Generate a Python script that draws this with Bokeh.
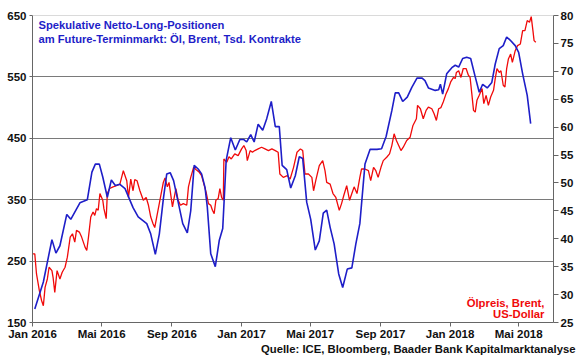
import pandas as pd
from bokeh.plotting import figure
from bokeh.models import Range1d, LinearAxis, FixedTicker, CustomJSTickFormatter, Label, Span, Title
from bokeh.embed import file_html
from bokeh.resources import INLINE

# ---- data ----
blue_dates = ["2016-01-05","2016-01-20","2016-02-04","2016-02-11","2016-02-18","2016-03-01","2016-03-08",
    "2016-03-24","2016-04-06","2016-04-14","2016-04-20","2016-04-27","2016-05-03","2016-05-11","2016-05-18",
    "2016-05-25","2016-06-02","2016-06-11","2016-06-25","2016-07-04","2016-07-19","2016-07-26","2016-08-03",
    "2016-08-10","2016-08-17","2016-08-23","2016-08-29","2016-09-04","2016-09-20","2016-09-28","2016-10-04",
    "2016-10-10","2016-10-17","2016-10-23","2016-10-29","2016-11-02","2016-11-08","2016-11-16","2016-11-23",
    "2016-11-29","2016-12-05","2016-12-13","2016-12-21","2016-12-29","2017-01-05","2017-01-10","2017-01-17",
    "2017-01-23","2017-01-30","2017-02-07","2017-02-14","2017-02-22","2017-03-01","2017-03-08","2017-03-13",
    "2017-03-21","2017-03-28","2017-04-05","2017-04-12","2017-04-18","2017-04-25","2017-05-02","2017-05-10",
    "2017-05-17","2017-05-24","2017-05-30","2017-06-05","2017-06-12","2017-06-20","2017-06-27","2017-07-05",
    "2017-07-13","2017-07-20","2017-07-27","2017-08-05","2017-08-14","2017-08-26","2017-09-03","2017-09-11",
    "2017-09-21","2017-09-27","2017-10-03","2017-10-10","2017-10-18","2017-10-26","2017-11-04","2017-11-13",
    "2017-11-18","2017-11-24","2017-12-06","2017-12-12","2017-12-15","2017-12-19","2017-12-26","2018-01-04",
    "2018-01-10","2018-01-16","2018-01-23","2018-01-30","2018-02-06","2018-02-14","2018-02-21","2018-02-27",
    "2018-03-07","2018-03-15","2018-03-21","2018-03-28","2018-04-04","2018-04-10","2018-04-16","2018-04-25",
    "2018-05-01","2018-05-08","2018-05-16","2018-05-22"]
blue_values = [172,216,285,263,275,326,318,345,350,395,408,408,387,354,382,373,375,368,337,322,311,294,261,
    294,351,392,394,381,311,296,332,406,400,392,370,338,262,241,284,303,414,451,431,448,448,444,456,444,473,
    463,482,510,469,469,406,399,369,389,420,417,346,318,268,283,328,333,305,278,229,207,237,239,278,311,408,
    432,432,433,453,495,524,524,510,517,533,548,548,544,532,528,529,538,522,555,565,569,566,580,582,580,550,
    525,538,532,541,571,596,601,615,610,601,590,555,520,474]

red_dates = ["2016-01-01","2016-01-05","2016-01-08","2016-01-13","2016-01-17","2016-01-20","2016-01-23",
    "2016-01-27","2016-01-30","2016-02-04","2016-02-06","2016-02-09","2016-02-13","2016-02-18","2016-02-22",
    "2016-02-27","2016-03-02","2016-03-07","2016-03-11","2016-03-15","2016-03-18","2016-03-23","2016-03-27",
    "2016-04-02","2016-04-05","2016-04-08","2016-04-12","2016-04-16","2016-04-19","2016-04-22","2016-04-25",
    "2016-04-28","2016-05-03","2016-05-05","2016-05-09","2016-05-11","2016-05-15","2016-05-21","2016-05-27",
    "2016-06-02","2016-06-08","2016-06-14","2016-06-17","2016-06-21","2016-06-25","2016-06-28","2016-07-02",
    "2016-07-07","2016-07-13","2016-07-18","2016-07-22","2016-07-26","2016-07-30","2016-08-02","2016-08-06",
    "2016-08-11","2016-08-17","2016-08-20","2016-08-24","2016-08-27","2016-09-02","2016-09-08","2016-09-12",
    "2016-09-16","2016-09-21","2016-09-27","2016-09-30","2016-10-04","2016-10-09","2016-10-13","2016-10-19",
    "2016-10-23","2016-10-27","2016-10-31","2016-11-04","2016-11-08","2016-11-11","2016-11-14","2016-11-17",
    "2016-11-21","2016-11-24","2016-11-27","2016-11-30","2016-12-01","2016-12-06","2016-12-10","2016-12-14",
    "2016-12-20","2016-12-26","2017-01-01","2017-01-05","2017-01-09","2017-01-11","2017-01-16","2017-01-20",
    "2017-01-24","2017-01-30","2017-02-05","2017-02-11","2017-02-17","2017-02-23","2017-03-01","2017-03-06",
    "2017-03-09","2017-03-15","2017-03-22","2017-03-27","2017-04-02","2017-04-08","2017-04-14","2017-04-18",
    "2017-04-22","2017-04-28","2017-05-04","2017-05-07","2017-05-11","2017-05-17","2017-05-23","2017-05-27",
    "2017-05-30","2017-06-05","2017-06-10","2017-06-15","2017-06-21","2017-06-25","2017-06-29","2017-07-04",
    "2017-07-09","2017-07-13","2017-07-17","2017-07-22","2017-07-27","2017-07-30","2017-08-05","2017-08-11",
    "2017-08-15","2017-08-20","2017-08-24","2017-08-28","2017-09-02","2017-09-06","2017-09-12","2017-09-17",
    "2017-09-21","2017-09-25","2017-09-29","2017-10-03","2017-10-07","2017-10-11","2017-10-17","2017-10-23",
    "2017-10-28","2017-11-03","2017-11-05","2017-11-10","2017-11-15","2017-11-20","2017-11-24","2017-11-30",
    "2017-12-04","2017-12-08","2017-12-12","2017-12-16","2017-12-20","2017-12-25","2017-12-29","2018-01-02",
    "2018-01-07","2018-01-10","2018-01-12","2018-01-16","2018-01-20","2018-01-24","2018-01-29","2018-02-02",
    "2018-02-05","2018-02-08","2018-02-11","2018-02-14","2018-02-17","2018-02-21","2018-02-26","2018-03-01",
    "2018-03-05","2018-03-09","2018-03-13","2018-03-18","2018-03-21","2018-03-24","2018-03-28","2018-03-31",
    "2018-04-04","2018-04-07","2018-04-10","2018-04-13","2018-04-17","2018-04-20","2018-04-25","2018-04-29",
    "2018-05-04","2018-05-08","2018-05-12","2018-05-16","2018-05-20","2018-05-23","2018-05-26","2018-05-28",
    "2018-05-31"]
red_values = [37.3,37.3,33.7,30.7,28.9,28.0,31.3,32.8,34.9,34.3,33.1,30.4,34.3,32.8,34.0,34.9,36.7,40.3,40.9,
    39.4,41.5,41.2,40.3,38.5,37.9,40.3,43.9,44.8,44.2,45.4,45.1,48.1,46.9,45.4,43.6,48.1,49.0,49.3,49.5,49.8,
    52.2,50.4,47.4,50.7,48.6,50.6,50.4,48.6,46.9,47.4,46.0,43.9,42.7,42.0,44.2,46.9,50.1,50.9,49.3,50.1,45.7,
    49.0,46.9,46.0,46.3,46.0,49.3,51.0,52.8,52.4,51.9,51.3,49.8,48.3,46.3,46.0,45.1,44.5,46.9,47.2,49.0,47.4,
    46.9,54.3,53.7,54.7,54.3,55.2,54.9,56.1,56.7,55.8,54.0,55.8,55.5,55.8,56.1,56.4,56.1,55.8,56.1,55.8,55.5,
    51.6,51.0,51.3,50.7,52.8,55.5,56.1,55.8,51.6,51.6,51.0,48.6,50.5,53.1,54.0,52.2,50.1,49.8,48.1,47.4,45.1,
    46.3,47.8,49.5,46.9,48.1,49.3,48.1,51.0,52.5,52.5,52.2,50.4,52.8,52.2,51.0,52.8,54.0,54.6,55.2,56.7,58.8,
    57.6,56.7,55.8,56.4,57.6,58.2,60.3,61.5,63.9,63.3,61.5,63.0,63.6,63.3,62.4,61.2,63.3,63.5,64.5,66.0,66.9,
    68.1,68.9,68.7,69.8,70.1,68.9,70.5,70.5,69.3,68.9,66.0,63.0,62.7,64.8,65.7,66.9,64.2,65.7,63.9,65.4,66.6,
    68.7,70.5,69.8,70.1,67.5,67.2,70.5,72.2,73.1,71.6,73.7,74.6,74.9,77.3,77.3,79.1,78.8,79.8,77.3,75.5,75.2]

x_start, x_end = "2016-01-01", "2018-07-01"
x_tick_dates = ["2016-01-01","2016-05-01","2016-09-01","2017-01-01","2017-05-01","2017-09-01","2018-01-01","2018-05-01"]
month_names = ["Jan","Feb","Mär","Apr","Mai","Jun","Jul","Aug","Sep","Okt","Nov","Dez"]
left_ticks = [150, 250, 350, 450, 550, 650]
grid_ticks = [250, 350, 450, 550]
right_ticks = [25, 30, 35, 40, 45, 50, 55, 60, 65, 70, 75, 80]

title_lines = ["Spekulative Netto-Long-Positionen", "am Future-Terminmarkt: Öl, Brent, Tsd. Kontrakte"]
red_lines = ["Ölpreis, Brent,", "US-Dollar"]
source_text = "Quelle: ICE, Bloomberg, Baader Bank Kapitalmarktanalyse"

BLUE = "#1e1ec8"
RED = "#f00a0a"
FONT = "Liberation Sans"
FS = "11.5px"

p = figure(width=580, height=359, x_axis_type="datetime",
           x_range=Range1d(pd.Timestamp(x_start), pd.Timestamp(x_end)),
           y_range=Range1d(150, 650), output_backend="svg", toolbar_location=None,
           min_border_left=32, min_border_right=27, min_border_top=15, min_border_bottom=37)
p.title.visible = False
p.extra_y_ranges = {"usd": Range1d(25, 80)}
p.outline_line_color = None
p.background_fill_color = "white"
p.border_fill_color = "white"

p.xgrid.visible = False
p.ygrid.ticker = FixedTicker(ticks=grid_ticks)
p.ygrid.grid_line_color = "#7a7a7a"
p.ygrid.grid_line_width = 1
p.add_layout(Span(location=650, dimension="width", line_color="#b5b5b5", line_width=1))

p.line(pd.to_datetime(red_dates), red_values, y_range_name="usd", line_color=RED, line_width=1.3)
p.line(pd.to_datetime(blue_dates), blue_values, line_color=BLUE, line_width=1.6)

def style_axis(ax, tick_out):
    ax.axis_label = None
    ax.axis_line_color = "#666666"
    ax.major_tick_line_color = "#666666"
    ax.major_tick_out = tick_out
    ax.major_tick_in = 0
    ax.minor_tick_line_color = None
    ax.major_label_text_font = FONT
    ax.major_label_text_font_style = "bold"
    ax.major_label_text_font_size = FS
    ax.major_label_text_color = "#111111"

xa = p.xaxis[0]
xa.ticker = FixedTicker(ticks=[pd.Timestamp(d).value / 1e6 for d in x_tick_dates])
xa.formatter = CustomJSTickFormatter(args=dict(names=month_names),
    code="const d = new Date(tick); return names[d.getUTCMonth()] + ' ' + d.getUTCFullYear();")
style_axis(xa, 4)
xa.major_label_standoff = 1

ya = p.yaxis[0]
ya.ticker = FixedTicker(ticks=left_ticks)
style_axis(ya, 3)
ya.major_label_standoff = 3

ra = LinearAxis(y_range_name="usd", ticker=FixedTicker(ticks=right_ticks))
style_axis(ra, 5)
ra.major_label_standoff = 2
p.add_layout(ra, "right")

src = Title(text=source_text, align="right", offset=-22, standoff=0, vertical_align="top",
            text_color="#111111", text_font=FONT, text_font_style="bold", text_font_size="11.3px")
p.add_layout(src, "below")

for i, t in enumerate(title_lines):
    p.add_layout(Label(x=6, y=298 - 14 * i, x_units="screen", y_units="screen", text=t,
                       text_color=BLUE, text_font=FONT, text_font_style="bold",
                       text_font_size="11.2px", text_baseline="middle"))
for i, t in enumerate(red_lines):
    p.add_layout(Label(x=512, y=20 - 11 * i, x_units="screen", y_units="screen", text=t,
                       text_color=RED, text_font=FONT, text_font_style="bold",
                       text_font_size="11.3px", text_baseline="middle", text_align="right"))

open("out.html", "w").write(file_html(p, INLINE))
